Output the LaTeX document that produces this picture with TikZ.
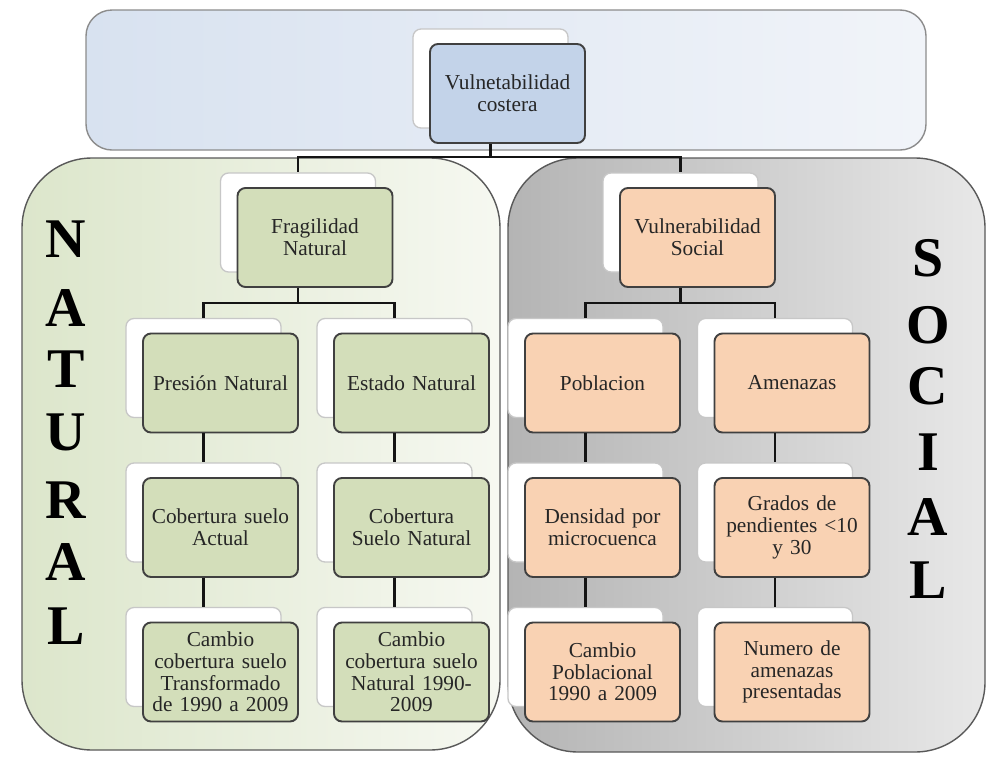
\documentclass[tikz,border=0pt]{standalone}
\usepackage{fontspec}
\setmainfont{Liberation Serif}
\definecolor{bluefill}{HTML}{C3D3E9}
\definecolor{greenfill}{HTML}{D3DEBA}
\definecolor{orangefill}{HTML}{F9D2B3}
\definecolor{boxborder}{HTML}{404040}
\definecolor{txt}{HTML}{262626}
\definecolor{bannerL}{HTML}{D8E2F0}
\definecolor{bannerR}{HTML}{F1F4F9}
\definecolor{natL}{HTML}{DCE6CB}
\definecolor{natR}{HTML}{F6F8F1}
\definecolor{socL}{HTML}{B4B4B4}
\definecolor{socR}{HTML}{E8E8E8}
\begin{document}
\begin{tikzpicture}[x=1pt,y=-1pt,
  conn/.style={line width=2.8pt, draw=black!92},
  backbox/.style={draw=black!22, line width=1.3pt, fill=white, rounded corners=8pt, minimum width=155pt, minimum height=99pt, inner sep=0pt},
  frontbox/.style={draw=boxborder, line width=1.9pt, rounded corners=8pt, minimum width=155pt, minimum height=99pt, text width=152pt, align=center, inner sep=0pt, font=\fontsize{21.3}{21.7}\selectfont, text=txt},
  panel/.style={draw=black!65, line width=1.4pt},
  letter/.style={font=\fontsize{56}{56}\selectfont\bfseries, text=black, inner sep=0pt}]
\newcommand\twobox[5]{%
  \node[backbox] (#1b) at (#2-17,#3-15) {};
  \node[frontbox,fill=#4] (#1) at (#2,#3) {#5};}
\useasboundingbox (0,0) rectangle (990,766);
\fill[white] (0,0) rectangle (990,766);
% banner and panels
\draw[panel, draw=black!45, left color=bannerL, right color=bannerR, rounded corners=26pt] (86,10) rectangle (926,150);
\draw[panel, left color=natL, right color=natR, rounded corners=70pt] (22,158) rectangle (500,750);
\draw[panel, left color=socL, right color=socR, rounded corners=70pt] (508,158) rectangle (985,752);
% coordinates for horizontal connector levels
\coordinate (h0) at (0,157);
\coordinate (h1) at (0,303);
% boxes
\twobox{top}{507.5}{93.5}{bluefill}{Vulnetabilidad\\costera}
\twobox{frag}{315}{237.5}{greenfill}{Fragilidad\\Natural}
\twobox{vsoc}{697.5}{237.5}{orangefill}{Vulnerabilidad\\Social}
\twobox{pres}{220.5}{383}{greenfill}{Presión Natural}
\twobox{est}{411.5}{383}{greenfill}{Estado Natural}
\twobox{pob}{602.5}{383}{orangefill}{Poblacion}
\twobox{ame}{792}{383}{orangefill}{Amenazas}
\twobox{coba}{220.5}{527.5}{greenfill}{Cobertura suelo\\Actual}
\twobox{cobn}{411.5}{527.5}{greenfill}{Cobertura\\Suelo Natural}
\twobox{den}{602.5}{527.5}{orangefill}{Densidad por\\microcuenca}
\twobox{gra}{792}{527.5}{orangefill}{Grados de\\pendientes <10\\y 30}
\twobox{camt}{220.5}{672}{greenfill}{Cambio\\cobertura suelo\\Transformado\\de 1990 a 2009}
\twobox{camn}{411.5}{672}{greenfill}{Cambio\\cobertura suelo\\Natural 1990-\\2009}
\twobox{camp}{602.5}{672}{orangefill}{Cambio\\Poblacional\\1990 a 2009}
\twobox{num}{792}{672}{orangefill}{Numero de\\amenazas\\presentadas}
% connectors
\draw[conn] (topb.center |- top.south) -- (topb.center |- h0) -| (fragb.north);
\draw[conn] (topb.center |- h0) -| (vsocb.north);
\draw[conn] (fragb.center |- frag.south) -- (fragb.center |- h1) -| (presb.north);
\draw[conn] (fragb.center |- h1) -| (estb.north);
\draw[conn] (vsocb.center |- vsoc.south) -- (vsocb.center |- h1) -| (pobb.north);
\draw[conn] (vsocb.center |- h1) -| (ameb.north);
\draw[conn] (presb.center |- pres.south) -- (cobab.north);
\draw[conn] (estb.center |- est.south) -- (cobnb.north);
\draw[conn] (pobb.center |- pob.south) -- (denb.north);
\draw[conn] (ameb.center |- ame.south) -- (grab.north);
\draw[conn] (cobab.center |- coba.south) -- (camtb.north);
\draw[conn] (cobnb.center |- cobn.south) -- (camnb.north);
\draw[conn] (denb.center |- den.south) -- (campb.north);
\draw[conn] (grab.center |- gra.south) -- (numb.north);
% side letters
\node[letter] (ln1) at (66,239) {N};
\node[letter] (ln2) at (66,308) {A};
\node[letter] (ln3) at (66,369) {T};
\node[letter] (ln4) at (66,432) {U};
\node[letter] (ln5) at (66,500) {R};
\node[letter] (ln6) at (66,562) {A};
\node[letter] (ln7) at (66,626) {L};
\node[letter] (ls1) at (928,258) {S};
\node[letter] (ls2) at (928,325) {O};
\node[letter] (ls3) at (928,386) {C};
\node[letter] (ls4) at (928,452) {I};
\node[letter] (ls5) at (928,517) {A};
\node[letter] (ls6) at (928,580) {L};
\end{tikzpicture}
\end{document}
